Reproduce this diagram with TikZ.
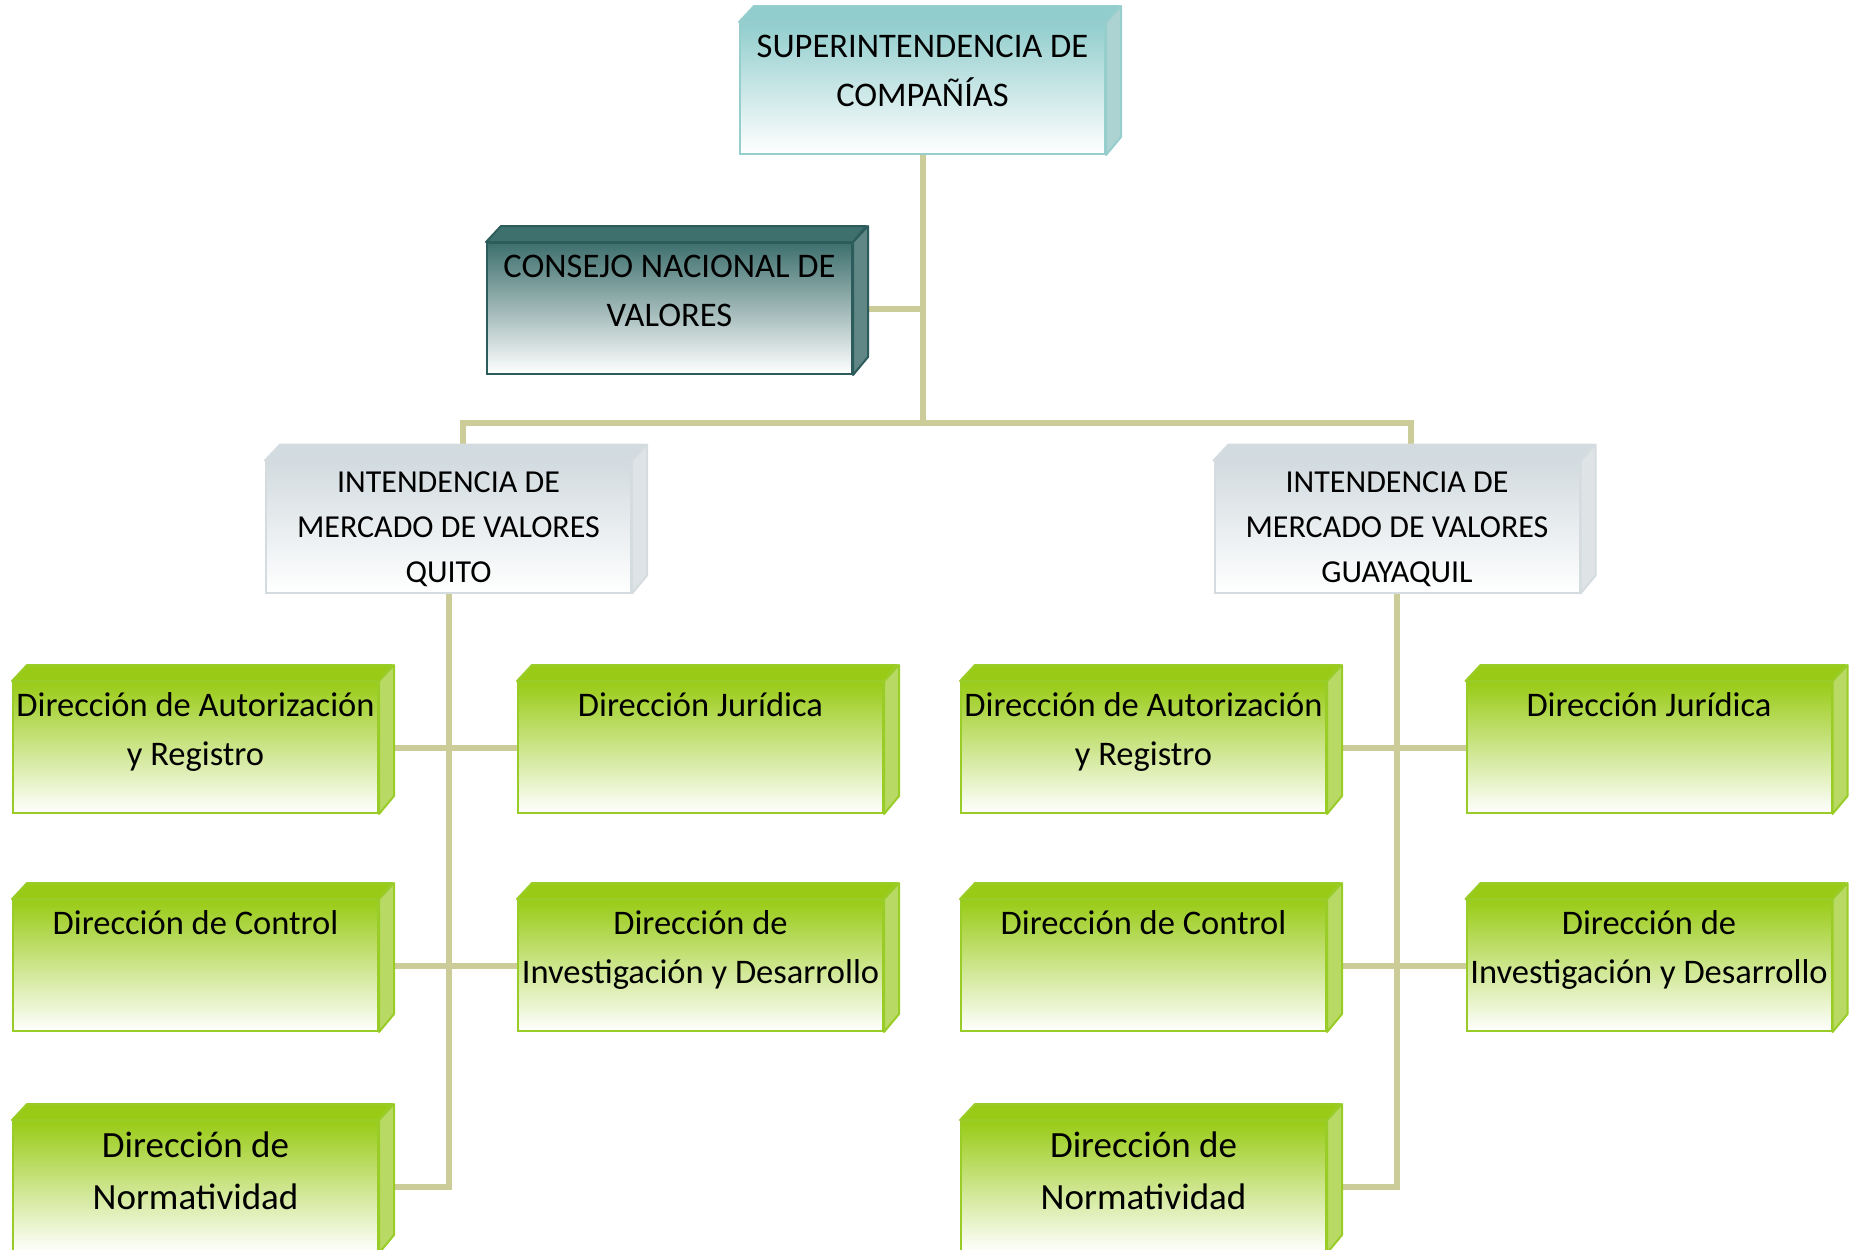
\documentclass[tikz,border=0pt]{standalone}
\usepackage{fontspec}
\setmainfont{Carlito}
\usetikzlibrary{positioning,backgrounds}

\definecolor{supT}{RGB}{146,205,205}
\definecolor{supB}{RGB}{150,206,206}
\definecolor{supS}{RGB}{172,210,210}
\definecolor{cnvT}{RGB}{62,112,110}
\definecolor{cnvB}{RGB}{45,92,92}
\definecolor{cnvS}{RGB}{96,135,133}
\definecolor{intT}{RGB}{210,219,223}
\definecolor{intB}{RGB}{212,220,224}
\definecolor{intS}{RGB}{222,228,230}
\definecolor{grnT}{RGB}{153,203,22}
\definecolor{grnB}{RGB}{154,204,40}
\definecolor{grnS}{RGB}{184,218,100}
\definecolor{linkC}{RGB}{204,204,153}

\begin{document}
\begin{tikzpicture}[x=0.4pt, y=-0.4pt,
  box/.style = {rectangle, draw, line width=0.8pt, inner sep=0pt,
    minimum width=146pt, minimum height=52.4pt},
  supbox/.style = {box, draw=supB, top color=supT, bottom color=white},
  cnvbox/.style = {box, draw=cnvB, top color=cnvT, bottom color=white},
  intbox/.style = {box, draw=intB, top color=intT, bottom color=white},
  grnbox/.style = {box, draw=grnB, top color=grnT, bottom color=white},
  txt/.style = {anchor=north, inner sep=0pt, align=center,
    font=\fontsize{13.8}{19.8}\selectfont},
  itxt/.style = {txt, font=\fontsize{12.8}{18}\selectfont},
  ntxt/.style = {txt, font=\fontsize{14.8}{21}\selectfont},
  link/.style = {draw=linkC, line width=2.4pt}]

  \useasboundingbox (0,0) rectangle (1857,1249);

  \node[supbox, label={[txt]north:{\strut SUPERINTENDENCIA DE\\COMPAÑÍAS}}] (sup) at (922.5,88.5) {};
  \node[cnvbox, label={[txt]north:{\strut CONSEJO NACIONAL DE\\VALORES}}] (cnv) at (669.5,308.5) {};
  \node[intbox, label={[itxt]north:{\strut INTENDENCIA DE\\MERCADO DE VALORES\\QUITO}}] (iq) at (448.5,527) {};
  \node[intbox, label={[itxt]north:{\strut INTENDENCIA DE\\MERCADO DE VALORES\\GUAYAQUIL}}] (ig) at (1397,527) {};

  \node[grnbox, label={[txt]north:{\strut Dirección de Autorización\\y Registro}}] (aq) at (195.5,747.5) {};
  \node[grnbox, label={[txt]north:{\strut Dirección Jurídica}}] (jq) at (700.5,747.5) {};
  \node[grnbox, label={[txt]north:{\strut Dirección de Control}}] (cq) at (195.5,965.5) {};
  \node[grnbox, label={[txt]north:{\strut Dirección de\\Investigación y Desarrollo}}] (dq) at (700.5,965.5) {};
  \node[grnbox, label={[ntxt]north:{\strut Dirección de\\Normatividad}}] (nq) at (195.5,1186.5) {};

  \node[grnbox, label={[txt]north:{\strut Dirección de Autorización\\y Registro}}] (ag) at (1143.5,747.5) {};
  \node[grnbox, label={[txt]north:{\strut Dirección Jurídica}}] (jg) at (1649,747.5) {};
  \node[grnbox, label={[txt]north:{\strut Dirección de Control}}] (cg) at (1143.5,965.5) {};
  \node[grnbox, label={[txt]north:{\strut Dirección de\\Investigación y Desarrollo}}] (dg) at (1649,965.5) {};
  \node[grnbox, label={[ntxt]north:{\strut Dirección de\\Normatividad}}] (ng) at (1143.5,1186.5) {};

  \foreach \n/\col in {sup/sup, cnv/cnv, iq/int, ig/int, aq/grn, jq/grn, cq/grn,
      dq/grn, nq/grn, ag/grn, jg/grn, cg/grn, dg/grn, ng/grn} {
    \filldraw[fill=\col S, draw=\col B, line width=0.8pt, line join=round]
      (\n.north east) -- ++(15,-16) -- ++(0,131) -- (\n.south east) -- cycle;
    \filldraw[fill=\col T, draw=\col B, line width=0.8pt, line join=round]
      (\n.north west) -- ++(15,-16) -- ++(365,0) -- (\n.north east) -- cycle;
  }

  \coordinate (bar) at (922.5,423);

  \begin{scope}[on background layer]
    \draw[link] (sup.south) -- (bar);
    \draw[link] (cnv.east) -- (cnv.east -| sup.south);
    \draw[link] ([xshift=5.6pt]iq.north) |- (bar) -| ([xshift=5.6pt]ig.north);
    \draw[link] (iq.south) |- (nq.east);
    \draw[link] (aq.east) -- (jq.west);
    \draw[link] (cq.east) -- (dq.west);
    \draw[link] (ig.south) |- (ng.east);
    \draw[link] (ag.east) -- (jg.west);
    \draw[link] (cg.east) -- (dg.west);
  \end{scope}
\end{tikzpicture}
\end{document}
